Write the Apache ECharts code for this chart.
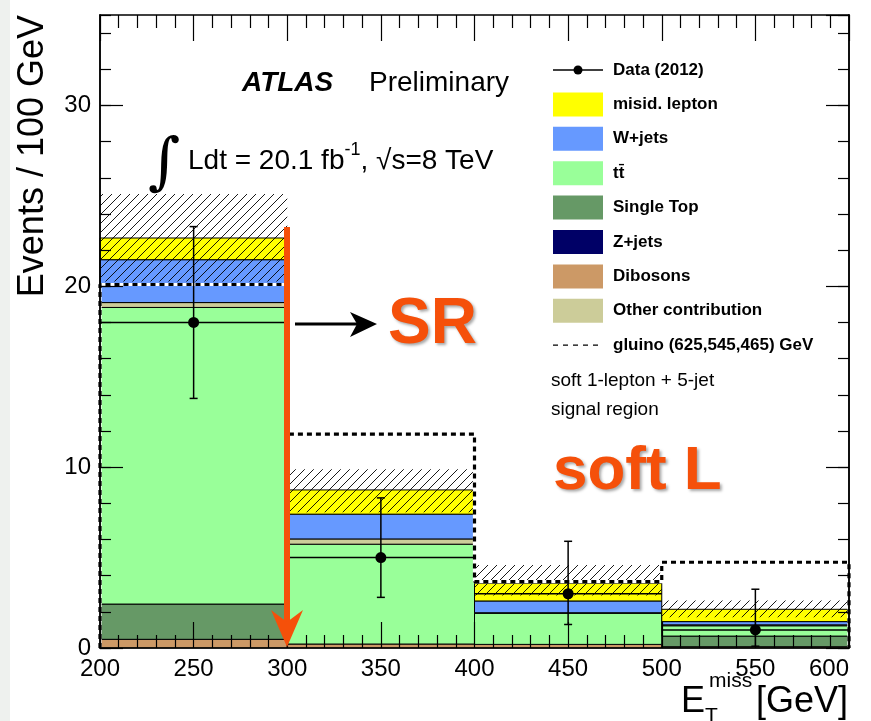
<!DOCTYPE html>
<html>
<head>
<meta charset="utf-8">
<script src="https://cdn.jsdelivr.net/npm/echarts@6.0.0/dist/echarts.min.js"></script>
<style>
html, body { margin: 0; padding: 0; background: #fff; }
#main { width: 871px; height: 721px; }
</style>
</head>
<body>
<div id="main"></div>
<script>
// bins of E_T^miss [GeV]
var binEdges = [200, 300, 400, 500, 600];

// backgrounds, from the bottom of the stack up
var dibosons  = [0.48, 0.22, 0.20, 0.07];
var zjets     = [0.00, 0.00, 0.00, 0.00];
var singleTop = [1.95, 0.00, 0.00, 0.59];
var ttbar     = [16.40, 5.52, 1.72, 0.57];
var other     = [0.27, 0.29, 0.03, 0.05];
var wjets     = [2.37, 1.37, 0.65, 0.18];
var misid     = [1.20, 1.34, 0.98, 0.68];

// total background uncertainty band (upper / lower edge)
var bkgUp   = [25.10, 9.89, 4.59, 2.62];
var bkgDown = [20.27, 7.50, 2.90, 1.70];

// data with poisson errors
var dataCounts  = [18, 5, 3, 1];
var dataErrUp   = [5.3, 3.3, 2.9, 2.25];
var dataErrDown = [4.2, 2.2, 1.7, 0.9];

// signal point
var gluino = [20.10, 11.83, 3.67, 4.74];

var stackNames  = ['Dibosons', 'Z+jets', 'Single Top', 'tt\u0304', 'Other contribution', 'W+jets', 'misid. lepton'];
var stackValues = [dibosons, zjets, singleTop, ttbar, other, wjets, misid];
var colors = {
  'misid. lepton': '#ffff00',
  'W+jets': '#6699ff',
  'tt\u0304': '#99ff99',
  'Single Top': '#669966',
  'Z+jets': '#000066',
  'Dibosons': '#cc9966',
  'Other contribution': '#cccc99'
};
var legendNames = ['Data (2012)', 'misid. lepton', 'W+jets', 'tt\u0304', 'Single Top', 'Z+jets', 'Dibosons', 'Other contribution', 'gluino (625,545,465) GeV'];

var orange = '#f5500a';
var font = '"Liberation Sans", Arial, Helvetica, sans-serif';

var chart = echarts.init(document.getElementById('main'));

// hatch pattern for the uncertainty band
function makeHatch() {
  var c = document.createElement('canvas');
  c.width = 9; c.height = 9;
  var g = c.getContext('2d');
  g.strokeStyle = '#000';
  g.lineWidth = 0.9;
  g.beginPath();
  g.moveTo(0, 9); g.lineTo(9, 0);
  g.moveTo(-1, 1); g.lineTo(1, -1);
  g.moveTo(8, 10); g.lineTo(10, 8);
  g.stroke();
  return c;
}
var hatch = makeHatch();

function boxRenderer(fill, stroke) {
  return function (params, api) {
    var lo = api.value(2), hi = api.value(3);
    if (hi - lo <= 0) return null;
    var p0 = api.coord([api.value(0), hi]);
    var p1 = api.coord([api.value(1), lo]);
    var st = { fill: fill };
    if (stroke) { st.stroke = '#000'; st.lineWidth = 1; } else { st.lineWidth = 0; }
    return {
      type: 'rect',
      shape: { x: p0[0], y: p0[1], width: p1[0] - p0[0], height: p1[1] - p0[1] },
      style: st
    };
  };
}

var series = [];
var cum = binEdges.slice(1).map(function () { return 0; });
stackNames.forEach(function (name, k) {
  var vals = stackValues[k];
  var rows = vals.map(function (v, i) {
    var row = [binEdges[i], binEdges[i + 1], cum[i], cum[i] + v];
    cum[i] += v;
    return row;
  });
  series.push({
    name: name,
    type: 'custom',
    renderItem: boxRenderer(colors[name], true),
    encode: { x: [0, 1], y: [2, 3] },
    data: rows,
    z: 2
  });
});

// uncertainty hatch
series.push({
  type: 'custom',
  renderItem: boxRenderer({ image: hatch, repeat: 'repeat' }, false),
  encode: { x: [0, 1], y: [2, 3] },
  data: bkgUp.map(function (u, i) { return [binEdges[i], binEdges[i + 1], bkgDown[i], u]; }),
  z: 3
});

// gluino step line
var sigPts = [[binEdges[0], 0]];
gluino.forEach(function (g, i) {
  sigPts.push([binEdges[i], g]);
  sigPts.push([binEdges[i + 1], g]);
});
sigPts.push([binEdges[binEdges.length - 1], 0]);
series.push({
  type: 'line', data: sigPts, showSymbol: false, symbol: 'none', z: 4, silent: true,
  lineStyle: { color: '#fff', width: 3.2, type: 'solid' }
});
series.push({
  type: 'line', data: sigPts, showSymbol: false, symbol: 'none', z: 5, silent: true,
  lineStyle: { color: '#000', width: 3.2, type: [5, 4] }
});

// data points
series.push({
  type: 'custom',
  z: 6,
  encode: { x: [0, 1], y: [2, 3, 4] },
  data: dataCounts.map(function (d, i) {
    return [binEdges[i], binEdges[i + 1], d, d - dataErrDown[i], d + dataErrUp[i]];
  }),
  renderItem: function (params, api) {
    var x0 = api.value(0), x1 = api.value(1), y = api.value(2);
    var xc = (x0 + x1) / 2;
    var pL = api.coord([x0, y]), pR = api.coord([x1, y]), pc = api.coord([xc, y]);
    var pLo = api.coord([xc, api.value(3)]), pHi = api.coord([xc, api.value(4)]);
    var ls = { stroke: '#000', lineWidth: 1.5 };
    var c = 4;
    return {
      type: 'group',
      children: [
        { type: 'line', shape: { x1: pL[0], y1: pL[1], x2: pR[0], y2: pR[1] }, style: ls },
        { type: 'line', shape: { x1: pLo[0], y1: pLo[1], x2: pHi[0], y2: pHi[1] }, style: ls },
        { type: 'line', shape: { x1: pHi[0] - c, y1: pHi[1], x2: pHi[0] + c, y2: pHi[1] }, style: ls },
        { type: 'line', shape: { x1: pLo[0] - c, y1: pLo[1], x2: pLo[0] + c, y2: pLo[1] }, style: ls },
        { type: 'circle', shape: { cx: pc[0], cy: pc[1], r: 5.5 }, style: { fill: '#000' } }
      ]
    };
  }
});

function xAx(pos, labels) {
  return {
    type: 'value', min: 200, max: 600, interval: 50, position: pos, z: 10,
    axisLine: { show: true, onZero: false, lineStyle: { color: '#000', width: 1.5 } },
    axisTick: { show: true, inside: true, length: 26, lineStyle: { color: '#000', width: 1.2 } },
    minorTick: { show: true, splitNumber: 5, length: 13, lineStyle: { color: '#000', width: 1.2 } },
    axisLabel: { show: labels, fontSize: 24, color: '#000', fontFamily: font, margin: 9, alignMaxLabel: 'right' },
    splitLine: { show: false }, minorSplitLine: { show: false }
  };
}
function yAx(pos, interval, len, labels) {
  return {
    type: 'value', min: 0, max: 35, interval: interval, position: pos, z: 10,
    axisLine: { show: true, onZero: false, lineStyle: { color: '#000', width: 1.5 } },
    axisTick: { show: true, inside: true, length: len, lineStyle: { color: '#000', width: 1.2 } },
    axisLabel: { show: labels, fontSize: 24, color: '#000', fontFamily: font, margin: 9, showMaxLabel: false },
    splitLine: { show: false }
  };
}

// legend drawn from the name list
var graphics = [];
legendNames.forEach(function (name, i) {
  var yc = 70 + i * 34.4;
  if (name === 'Data (2012)') {
    graphics.push({ type: 'line', shape: { x1: 553, y1: yc, x2: 603, y2: yc }, style: { stroke: '#000', lineWidth: 1.5 } });
    graphics.push({ type: 'circle', shape: { cx: 578, cy: yc, r: 4.5 }, style: { fill: '#000' } });
  } else if (name.indexOf('gluino') === 0) {
    graphics.push({ type: 'line', shape: { x1: 553, y1: yc, x2: 600, y2: yc }, style: { stroke: '#000', lineWidth: 1.2, lineDash: [5, 5] } });
  } else {
    graphics.push({ type: 'rect', shape: { x: 553, y: yc - 12, width: 50, height: 24 }, style: { fill: colors[name] } });
  }
  graphics.push({ type: 'text', x: 613, y: yc, style: { text: name, font: 'bold 17px ' + font, fill: '#000', verticalAlign: 'middle' } });
});

graphics = graphics.concat([
  { type: 'rect', shape: { x: 0, y: 0, width: 10, height: 721 }, style: { fill: '#eef1ee' } },
  { type: 'text', x: 551, y: 381, style: { text: 'soft 1-lepton + 5-jet', font: '19px ' + font, fill: '#000', verticalAlign: 'middle' } },
  { type: 'text', x: 551, y: 410, style: { text: 'signal region', font: '19px ' + font, fill: '#000', verticalAlign: 'middle' } },
  { type: 'text', x: 242, y: 83, style: { text: 'ATLAS', font: 'italic bold 28px ' + font, fill: '#000', verticalAlign: 'middle' } },
  { type: 'text', x: 369, y: 83, style: { text: 'Preliminary', font: '28px ' + font, fill: '#000', verticalAlign: 'middle' } },
  { type: 'text', x: 148, y: 166, style: { text: '\u222b', font: '62px "DejaVu Serif", serif', fill: '#000', verticalAlign: 'middle' } },
  { type: 'text', x: 188, y: 158, style: {
      text: '{a|Ldt = 20.1 fb}{s|-1}{a|, \u221as=8 TeV}',
      verticalAlign: 'middle', fill: '#000',
      rich: {
        a: { font: '28px ' + font, fill: '#000', lineHeight: 34, verticalAlign: 'bottom' },
        s: { font: '18px ' + font, fill: '#000', lineHeight: 34, verticalAlign: 'top' }
      }
  } },
  { type: 'text', x: 33, y: 15, rotation: Math.PI / 2, style: { text: 'Events / 100 GeV', font: '36px ' + font, fill: '#000', align: 'right', verticalAlign: 'middle' } },
  { type: 'text', x: 681, y: 702, style: { text: 'E', font: '36px ' + font, fill: '#000', verticalAlign: 'middle' } },
  { type: 'text', x: 709, y: 681, style: { text: 'miss', font: '21px ' + font, fill: '#000', verticalAlign: 'middle' } },
  { type: 'text', x: 705, y: 716, style: { text: 'T', font: '21px ' + font, fill: '#000', verticalAlign: 'middle' } },
  { type: 'text', x: 848, y: 702, style: { text: '[GeV]', font: '36px ' + font, fill: '#000', align: 'right', verticalAlign: 'middle' } },
  // annotations
  { type: 'rect', z: 20, shape: { x: 284, y: 227, width: 6, height: 397 }, style: { fill: orange } },
  { type: 'polygon', z: 20, shape: { points: [[271, 610], [287, 622], [303, 610], [287, 647]] }, style: { fill: orange } },
  { type: 'line', z: 20, shape: { x1: 295, y1: 324, x2: 360, y2: 324 }, style: { stroke: '#000', lineWidth: 3 } },
  { type: 'polygon', z: 20, shape: { points: [[350, 312], [377, 324], [350, 337], [357, 324]] }, style: { fill: '#000' } },
  { type: 'text', z: 20, x: 388, y: 325, style: { text: 'SR', font: 'bold 64px ' + font, fill: orange, verticalAlign: 'middle',
      textShadowColor: 'rgba(0,0,0,0.35)', textShadowBlur: 3, textShadowOffsetX: 2, textShadowOffsetY: 2 } },
  { type: 'text', z: 20, x: 553, y: 472, style: { text: 'soft L', font: 'bold 62px ' + font, fill: orange, verticalAlign: 'middle',
      textShadowColor: 'rgba(0,0,0,0.35)', textShadowBlur: 3, textShadowOffsetX: 2, textShadowOffsetY: 2 } }
]);

var option = {
  animation: false,
  backgroundColor: '#fff',
  grid: { left: 100, right: 22, top: 15, bottom: 73, containLabel: false },
  xAxis: [xAx('bottom', true), xAx('top', false)],
  yAxis: [yAx('left', 10, 23, true), yAx('left', 2, 11, false), yAx('right', 10, 23, false), yAx('right', 2, 11, false)],
  series: series,
  graphic: graphics
};
chart.setOption(option);
</script>
</body>
</html>
